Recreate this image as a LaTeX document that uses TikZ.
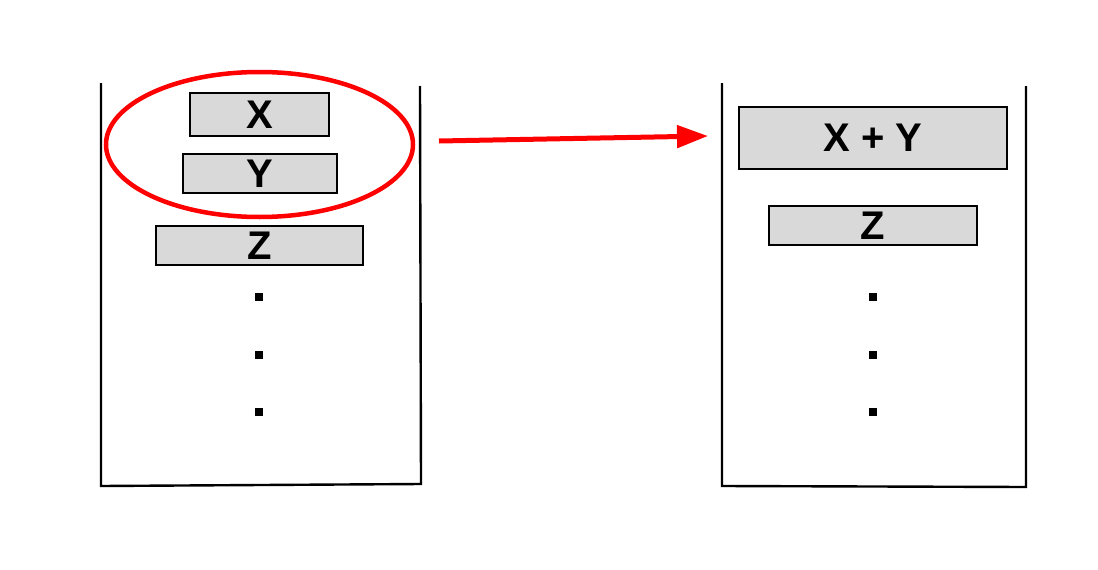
\documentclass[tikz,border=0pt]{standalone}
\usepackage{fontspec}
\setmainfont{Liberation Sans}
\usetikzlibrary{shapes.geometric,arrows.meta}
\definecolor{boxgray}{HTML}{D9D9D9}
\begin{document}
\begin{tikzpicture}[x=1pt,y=-1pt,
  stackline/.style={draw=black,line width=2.4pt},
  item/.style={draw=black,line width=2.2pt,fill=boxgray,inner sep=0pt,
    font=\fontsize{40}{44}\selectfont\bfseries},
  dotmark/.style={fill=black,draw=none,minimum size=8pt,inner sep=0pt,rectangle},
  flow/.style={draw=red,line width=5pt,-{Triangle[length=31pt,width=22pt]}}]
\useasboundingbox (0,0) rectangle (1098,570);
\fill[white] (0,0) rectangle (1098,570);
% left stack
\draw[stackline] (101,83) -- (101,486) -- (421,484) -- (420,86);
\node[item,minimum width=139pt,minimum height=43pt] (x) at (259.5,114.5) {X};
\node[item,minimum width=154pt,minimum height=39pt] (y) at (260,173.5) {Y};
\node[item,minimum width=207pt,minimum height=39pt] (z) at (259.5,245.5) {Z};
\node[dotmark] (l1) at (259,297) {};
\node[dotmark] (l2) at (259,355) {};
\node[dotmark] (l3) at (259,412) {};
\node[ellipse,draw=red,line width=4.5pt,minimum width=307pt,minimum height=145pt,inner sep=0pt] (oval) at (259.5,144.5) {};
% right stack
\draw[stackline] (722,83) -- (722,486) -- (1026,487) -- (1026,86);
\node[item,minimum width=268pt,minimum height=62pt] (xy) at (873,138) {X + Y};
\node[item,minimum width=208pt,minimum height=39pt] (z2) at (873,225.5) {Z};
\node[dotmark] (r1) at (873,297) {};
\node[dotmark] (r2) at (873,355) {};
\node[dotmark] (r3) at (873,412) {};
% arrow
\coordinate (a1) at (439,141);
\coordinate (a2) at (708,136);
\draw[flow] (a1) -- (a2);
\end{tikzpicture}
\end{document}
